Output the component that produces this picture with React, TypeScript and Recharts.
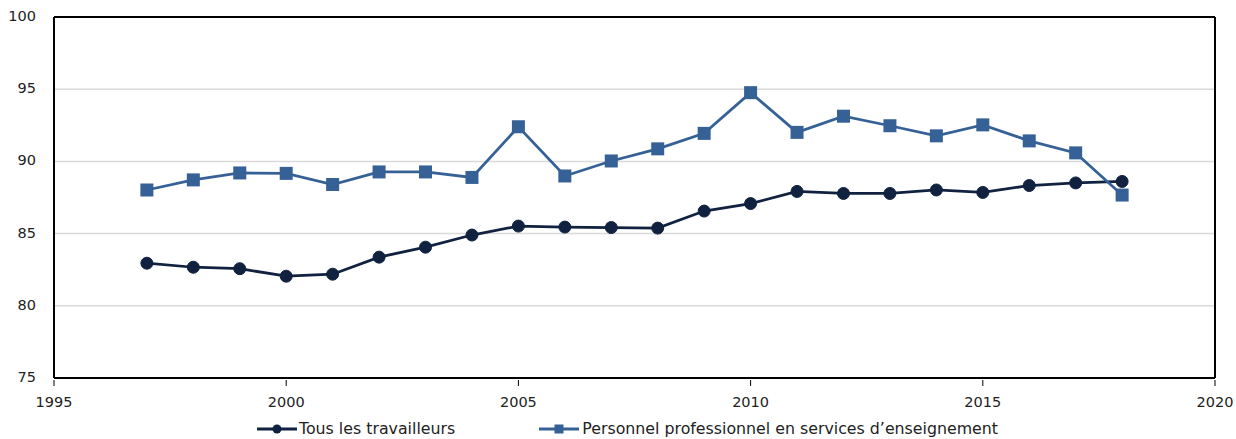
import React from "react";
import { LineChart, Line, XAxis, YAxis, CartesianGrid, Legend, ReferenceLine } from "recharts";

const years = [1997, 1998, 1999, 2000, 2001, 2002, 2003, 2004, 2005, 2006, 2007, 2008, 2009, 2010, 2011, 2012, 2013, 2014, 2015, 2016, 2017, 2018];
const tousLesTravailleurs = [82.95, 82.67, 82.57, 82.05, 82.19, 83.37, 84.06, 84.9, 85.52, 85.45, 85.42, 85.38, 86.56, 87.08, 87.92, 87.78, 87.78, 88.02, 87.85, 88.33, 88.51, 88.61];
const personnelEnseignement = [88.02, 88.72, 89.2, 89.17, 88.4, 89.27, 89.27, 88.89, 92.4, 88.99, 90.03, 90.87, 91.94, 94.76, 92.01, 93.13, 92.47, 91.77, 92.53, 91.42, 90.59, 87.67];
const xTicks = [1995, 2000, 2005, 2010, 2015, 2020];
const yTicks = [75, 80, 85, 90, 95, 100];
const seriesNames = ["Tous les travailleurs", "Personnel professionnel en services d\u2019enseignement"];

const data = years.map((y, i) => ({ year: y, a: tousLesTravailleurs[i], b: personnelEnseignement[i] }));

const FONT = "'DejaVu Sans', Verdana, sans-serif";
const DARK = "#10223f";
const BLUE = "#366196";

const XTick = (props: any) => {
  const { x, y, payload } = props;
  return (
    <g>
      <line x1={x} x2={x} y1={y} y2={y - 6} stroke="#000" strokeWidth={1} />
      <text x={x} y={y + 17} textAnchor="middle" dominantBaseline="middle" fontSize={14.5} fontFamily={FONT} fill="#222">
        {payload.value}
      </text>
    </g>
  );
};

const YTick = (props: any) => {
  const { x, y, payload } = props;
  return (
    <text x={x - 10} y={y} textAnchor="end" dominantBaseline="middle" fontSize={14.5} fontFamily={FONT} fill="#222">
      {payload.value}
    </text>
  );
};

const LegendContent = () => (
  <div style={{ display: "flex", justifyContent: "center", paddingTop: 12, paddingLeft: 40, fontFamily: FONT, fontSize: 15.8, color: "#222", lineHeight: "18px" }}>
    <div style={{ display: "flex", alignItems: "center", marginRight: 84 }}>
      <svg width={40} height={14} style={{ marginRight: 2 }}>
        <line x1={0} x2={40} y1={7} y2={7} stroke={DARK} strokeWidth={3} />
        <circle cx={20} cy={7} r={4.5} fill={DARK} />
      </svg>
      <span>{seriesNames[0]}</span>
    </div>
    <div style={{ display: "flex", alignItems: "center" }}>
      <svg width={40} height={14} style={{ marginRight: 3 }}>
        <line x1={0} x2={40} y1={7} y2={7} stroke={BLUE} strokeWidth={3} />
        <rect x={15.5} y={2.5} width={9} height={9} fill={BLUE} />
      </svg>
      <span>{seriesNames[1]}</span>
    </div>
  </div>
);

const Square = (props: any) => {
  const { cx, cy } = props;
  if (cx == null || cy == null) return null;
  return <rect x={cx - 6.5} y={cy - 6.5} width={13} height={13} fill={BLUE} />;
};

export default function App() {
  return (
    <div style={{ position: "absolute", left: 0, top: 0 }}>
      <LineChart width={1236} height={439} data={data} margin={{ top: 17, right: 21, left: 0, bottom: 0 }}>
        <CartesianGrid horizontal vertical={false} stroke="#d9d9d9" strokeWidth={1.5} />
        <XAxis
          dataKey="year"
          type="number"
          domain={[1995, 2020]}
          ticks={xTicks}
          height={30}
          axisLine={{ stroke: "#000", strokeWidth: 2 }}
          tickLine={false}
          tick={<XTick />}
          interval={0}
        />
        <YAxis
          type="number"
          domain={[75, 100]}
          ticks={yTicks}
          width={54}
          axisLine={{ stroke: "#000", strokeWidth: 2 }}
          tickLine={false}
          tick={<YTick />}
          interval={0}
        />
        <ReferenceLine y={100} stroke="#000" strokeWidth={2} />
        <ReferenceLine x={2020} stroke="#000" strokeWidth={2} />
        <Legend verticalAlign="bottom" height={31} content={<LegendContent />} />
        <Line
          dataKey="a"
          name={seriesNames[0]}
          stroke={DARK}
          strokeWidth={2.75}
          dot={{ r: 6, fill: DARK, stroke: DARK, strokeWidth: 1 }}
          isAnimationActive={false}
        />
        <Line
          dataKey="b"
          name={seriesNames[1]}
          stroke={BLUE}
          strokeWidth={2.75}
          dot={<Square />}
          isAnimationActive={false}
        />
      </LineChart>
    </div>
  );
}
